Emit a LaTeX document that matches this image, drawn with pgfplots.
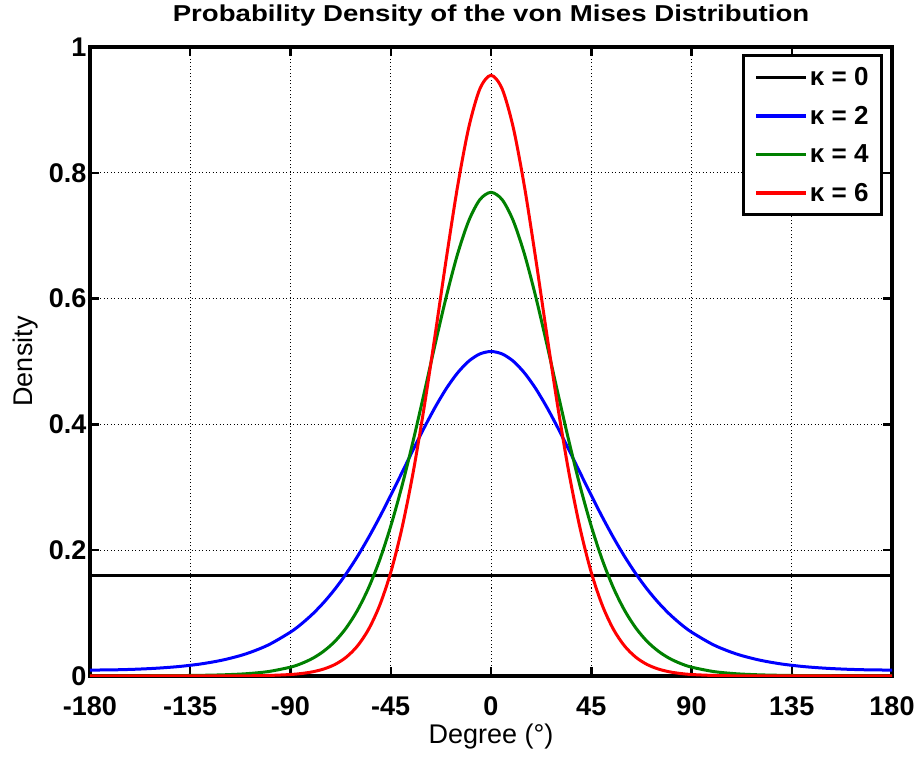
\documentclass[border=0pt]{standalone}
\usepackage{fontspec}
\setmainfont{Liberation Sans}
\newfontfamily\titlefont{Liberation Sans}[FakeStretch=1.2]
\usepackage{pgfplots}
\pgfplotsset{compat=1.18}
\usepackage{pgfplotstable}
\pgfplotstableread{
x k2 k4 k6
-180 0.00945 0.00026 0.00001
-170 0.00974 0.00027 0.00001
-160 0.0107 0.00033 0.00001
-150 0.0124 0.00044 0.00002
-140 0.0151 0.00066 0.00003
-130 0.0193 0.00108 0.00005
-120 0.0257 0.00191 0.00012
-110 0.0352 0.00359 0.00030
-100 0.0493 0.00703 0.00084
-90 0.0698 0.01408 0.00237
-85 0.0831 0.0200 0.00399
-80 0.0988 0.0282 0.00671
-75 0.1172 0.0397 0.0112
-70 0.1384 0.0553 0.0184
-65 0.1626 0.0764 0.0299
-60 0.1898 0.1041 0.0475
-55 0.2199 0.1397 0.0739
-50 0.2525 0.1842 0.1120
-45 0.2872 0.2383 0.1647
-40 0.3231 0.3016 0.2346
-35 0.3593 0.3730 0.3227
-30 0.3946 0.4499 0.4275
-25 0.4277 0.5286 0.5443
-20 0.4573 0.6041 0.6651
-15 0.4819 0.6709 0.7784
-10 0.5005 0.7236 0.8718
-5 0.5120 0.7573 0.9334
0 0.5159 0.7689 0.9550
5 0.5120 0.7573 0.9334
10 0.5005 0.7236 0.8718
15 0.4819 0.6709 0.7784
20 0.4573 0.6041 0.6651
25 0.4277 0.5286 0.5443
30 0.3946 0.4499 0.4275
35 0.3593 0.3730 0.3227
40 0.3231 0.3016 0.2346
45 0.2872 0.2383 0.1647
50 0.2525 0.1842 0.1120
55 0.2199 0.1397 0.0739
60 0.1898 0.1041 0.0475
65 0.1626 0.0764 0.0299
70 0.1384 0.0553 0.0184
75 0.1172 0.0397 0.0112
80 0.0988 0.0282 0.00671
85 0.0831 0.0200 0.00399
90 0.0698 0.01408 0.00237
100 0.0493 0.00703 0.00084
110 0.0352 0.00359 0.00030
120 0.0257 0.00191 0.00012
130 0.0193 0.00108 0.00005
140 0.0151 0.00066 0.00003
150 0.0124 0.00044 0.00002
160 0.0107 0.00033 0.00001
170 0.00974 0.00027 0.00001
180 0.00945 0.00026 0.00001
}\vmtable
\pgfplotstableread{
x k0
-180 0.1592
180 0.1592
}\uniftable
\definecolor{mblue}{RGB}{0,0,255}
\definecolor{mgreen}{RGB}{0,128,0}
\definecolor{mred}{RGB}{255,0,0}
\begin{document}
\begin{tikzpicture}
\begin{axis}[
  scale only axis, width=802pt, height=629pt,
  xmin=-180, xmax=180, ymin=0, ymax=1,
  xtick={-180,-135,-90,-45,0,45,90,135,180},
  ytick={0,0.2,0.4,0.6,0.8,1},
  grid=major,
  major grid style={black, line width=0.8pt, dash pattern=on 1pt off 2.5pt},
  axis line style={line width=3.5pt},
  tick style={black, line width=2.5pt},
  major tick length=9pt, tick align=inside,
  /pgf/number format/assume math mode=true,
  ticklabel style={font=\bfseries\fontsize{27}{27}\selectfont},
  xticklabel style={yshift=-17pt},
  title={Probability Density of the von Mises Distribution},
  title style={font=\titlefont\bfseries\fontsize{23}{23}\selectfont, at={(axis description cs:0.5,1)}, anchor=center, yshift=25pt},
  xlabel={Degree (°)}, ylabel={Density},
  xlabel style={font=\fontsize{27}{27}\selectfont, at={(axis description cs:0.5,-0.097)}, anchor=center},
  ylabel style={font=\fontsize{27}{27}\selectfont, at={(axis description cs:-0.08,0.5)}, anchor=center},
  legend style={at={(1,1)}, anchor=north east, xshift=-9pt, yshift=-7pt, draw=black, line width=3pt,
    font=\bfseries\fontsize{26}{26}\selectfont, row sep=15pt, inner xsep=11pt, inner ysep=10pt},
  legend cell align=left,
  legend image code/.code={\draw[#1, line width=3.5pt] (0pt,0pt) -- (50pt,0pt);},
]
\addplot[black, line width=3pt] table[x=x, y=k0] {\uniftable};
\addlegendentry{κ = 0}
\addplot[mblue, line width=3pt, smooth] table[x=x, y=k2] {\vmtable};
\addlegendentry{κ = 2}
\addplot[mgreen, line width=3pt, smooth] table[x=x, y=k4] {\vmtable};
\addlegendentry{κ = 4}
\addplot[mred, line width=3pt, smooth] table[x=x, y=k6] {\vmtable};
\addlegendentry{κ = 6}
\end{axis}
\pgfresetboundingbox
\path[use as bounding box] (-90pt,-81pt) rectangle (827pt,676pt);
\end{tikzpicture}
\end{document}
